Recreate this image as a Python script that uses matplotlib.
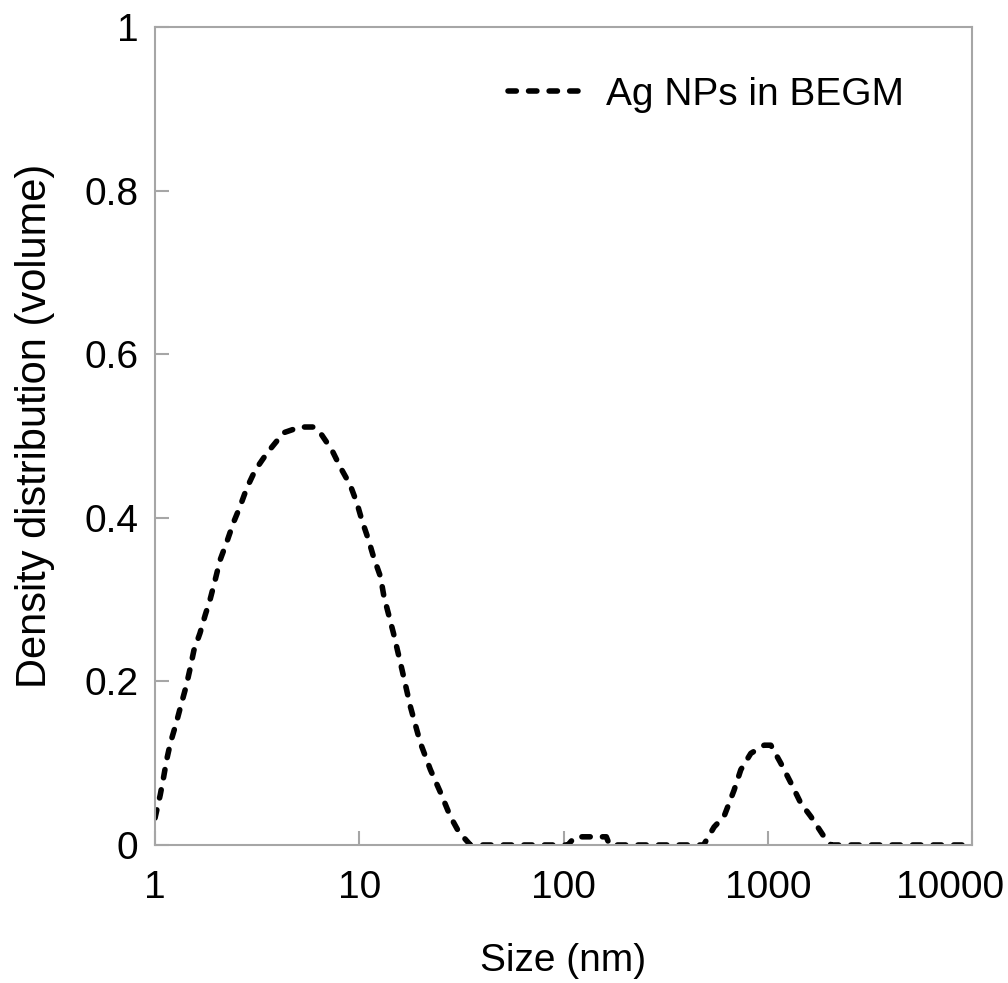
import matplotlib
matplotlib.use("Agg")
import matplotlib.pyplot as plt
import matplotlib.transforms as mtransforms

# Size distribution (nm, volume density)
size_nm = [1.0, 1.06, 1.10, 1.14, 1.19, 1.27, 1.34, 1.42, 1.48, 1.55, 1.66,
           1.76, 1.86, 1.97, 2.08, 2.25, 2.42, 2.61, 2.81, 3.09, 3.53, 4.26,
           5.14, 5.97, 6.44, 7.34, 8.07, 9.03, 9.74, 10.3, 11.1, 11.75, 12.7,
           13.2, 14.7, 16.2, 17.8, 19.9, 22.3, 25.0, 27.9, 30.7, 35.0,
           50, 80, 105, 114, 140, 162, 168, 250, 400, 485, 546, 611, 684,
           738, 826, 960, 1035, 1158, 1297, 1452, 1623, 1888, 2040, 3000,
           5000, 10000]
density = [0.033, 0.061, 0.082, 0.104, 0.125, 0.149, 0.171, 0.194, 0.214,
           0.238, 0.259, 0.281, 0.300, 0.324, 0.348, 0.371, 0.394, 0.414,
           0.436, 0.458, 0.479, 0.504, 0.511, 0.511, 0.504, 0.483, 0.462,
           0.440, 0.418, 0.397, 0.373, 0.352, 0.328, 0.304, 0.259, 0.214,
           0.169, 0.125, 0.092, 0.064, 0.035, 0.016, 0.0,
           0.0, 0.0, 0.0, 0.01, 0.01, 0.01, 0.0, 0.0, 0.0, 0.0, 0.022, 0.035,
           0.067, 0.092, 0.112, 0.122, 0.122, 0.100, 0.076, 0.051, 0.035,
           0.010, 0.0, 0.0, 0.0, 0.0]

x_ticks = [1, 10, 100, 1000, 10000]
x_tick_labels = ["1", "10", "100", "1000", "10000"]
y_ticks = [0, 0.2, 0.4, 0.6, 0.8, 1]
y_tick_labels = ["0", "0.2", "0.4", "0.6", "0.8", "1"]


def main():
    plt.rcParams["font.family"] = ["Liberation Sans", "DejaVu Sans"]
    fig = plt.figure(figsize=(10.08, 9.83), dpi=100)
    ax = fig.add_axes([0.1538, 0.1404, 0.8105, 0.8321])

    ax.plot(size_nm, density, color="black", lw=4.0,
            linestyle=(0, (1.5, 2.2)), dash_capstyle="round",
            solid_joinstyle="round", label="Ag NPs in BEGM")

    ax.set_xscale("log")
    ax.set_xlim(1, 10000)
    ax.set_ylim(0, 1)
    ax.set_xticks(x_ticks)
    ax.set_xticklabels(x_tick_labels)
    ax.minorticks_off()
    ax.set_yticks(y_ticks)
    ax.set_yticklabels(y_tick_labels)

    for s in ax.spines.values():
        s.set_color("#a6a6a6")
        s.set_linewidth(1.5)
    ax.tick_params(direction="in", length=10, width=1.5, color="#a6a6a6",
                   labelsize=28, pad=12)
    ax.tick_params(axis="x", pad=18)

    # last label sits a bit inside, as in the reference
    last = ax.get_xticklabels()[-1]
    shift = mtransforms.ScaledTranslation(-22 / 100, 0, fig.dpi_scale_trans)
    last.set_transform(last.get_transform() + shift)

    ax.set_xlabel("Size (nm)", fontsize=28, labelpad=27)
    ax.set_ylabel("Density distribution (volume)", fontsize=30)
    ax.yaxis.set_label_coords(-0.122, 0.512)

    ax.legend(loc="center right", bbox_to_anchor=(0.94, 0.917), frameon=False,
              fontsize=28, handlelength=2.0, handletextpad=0.5, borderpad=0)

    fig.savefig("out.png", dpi=100)


if __name__ == "__main__":
    main()
